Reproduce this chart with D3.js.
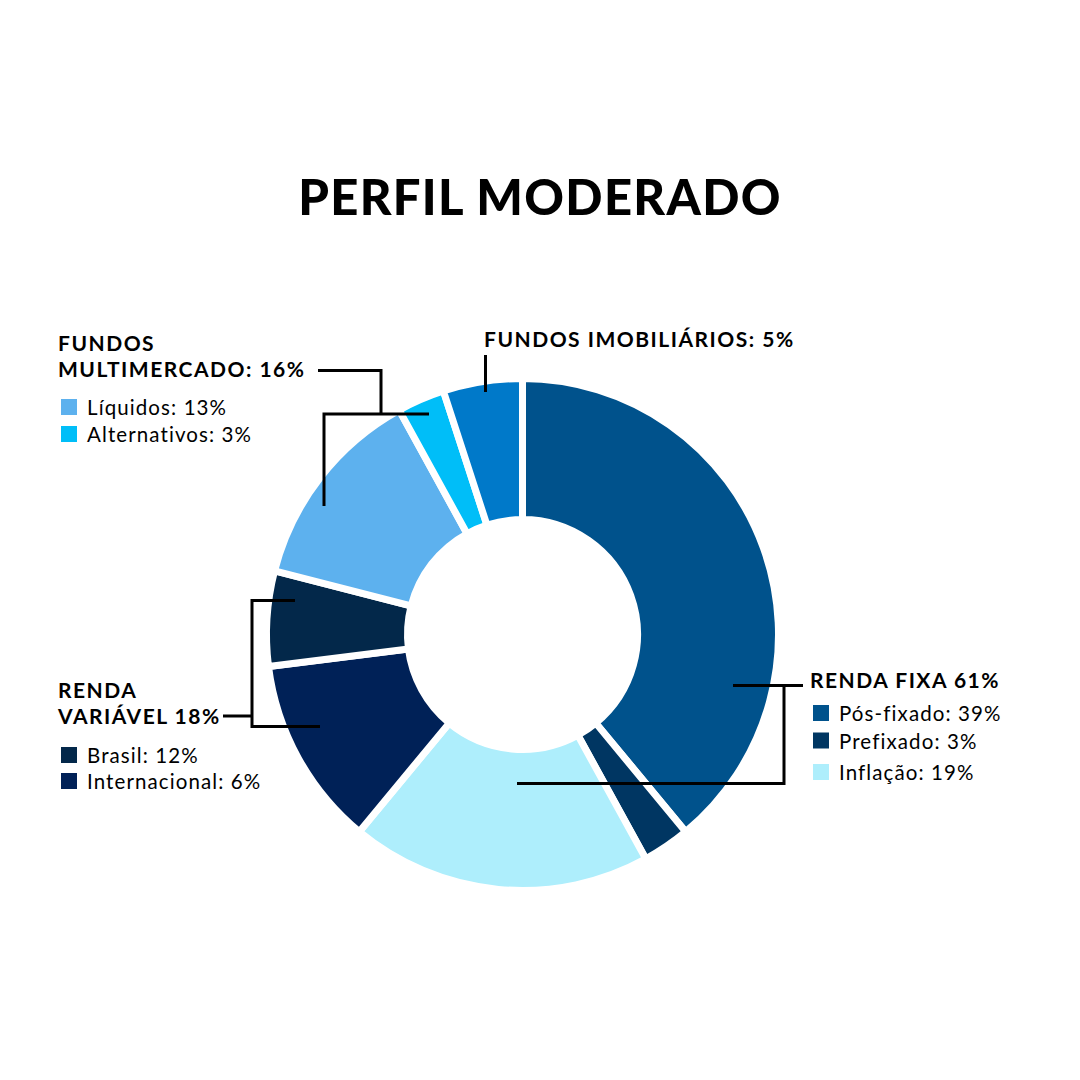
<!DOCTYPE html>
<html>
<head>
<meta charset="utf-8">
<script src="https://cdn.jsdelivr.net/npm/d3@7"></script>
<style>
html,body{margin:0;padding:0;background:#fff;}
svg{display:block;font-family:Lato,"Open Sans",sans-serif;}
</style>
</head>
<body>
<svg id="chart" width="1080" height="1080"></svg>
<script>
// ---- data ----
const title = "PERFIL MODERADO";
const sliceNames = ["Pós-fixado","Prefixado","Inflação","Brasil","Internacional","Líquidos","Alternativos","Imobiliários"];
const sliceValues = [39, 3, 19, 12, 6, 13, 3, 5];
const sliceColors = ["#00528c","#003662","#aeeefc","#002157","#03284a","#5db1ee","#00bef8","#0079c9"];

const groupTitles = {
  fixa: ["RENDA FIXA 61%"],
  variavel: ["RENDA", "VARIÁVEL 18%"],
  multi: ["FUNDOS", "MULTIMERCADO: 16%"],
  imob: ["FUNDOS IMOBILIÁRIOS: 5%"]
};
const legendFixa = ["Pós-fixado: 39%","Prefixado: 3%","Inflação: 19%"];
const legendFixaColors = ["#00528c","#003662","#aeeefc"];
const legendVariavel = ["Brasil: 12%","Internacional: 6%"];
const legendVariavelColors = ["#03284a","#002157"];
const legendMulti = ["Líquidos: 13%","Alternativos: 3%"];
const legendMultiColors = ["#5db1ee","#00bef8"];

// ---- layout ----
const svg = d3.select("#chart");
const cx = 522.5, cy = 634.5;
const rOuter = 256, rInner = 115;

svg.append("text")
  .attr("x", 540).attr("y", 215)
  .attr("text-anchor", "middle")
  .attr("font-size", 49).attr("font-weight", 900)
  .attr("letter-spacing", 1.3)
  .attr("fill", "#000")
  .text(title);

const pie = d3.pie().sort(null).value(d => d.v);
const arcs = pie(sliceValues.map((v, i) => ({v, name: sliceNames[i], color: sliceColors[i]})));
const arc = d3.arc().innerRadius(rInner).outerRadius(rOuter);

const g = svg.append("g").attr("transform", `translate(${cx},${cy})`);
g.selectAll("path").data(arcs).join("path")
  .attr("d", arc)
  .attr("fill", d => d.data.color)
  .attr("stroke", "#fff")
  .attr("stroke-width", 7)
  .attr("stroke-linejoin", "miter");

// connector lines
const lines = svg.append("g").attr("fill", "none").attr("stroke", "#000").attr("stroke-width", 3);
lines.append("path").attr("d", "M733,685.5 H803 M784,685.5 V783.5 H517");
lines.append("path").attr("d", "M223,716 H252 M295,600.5 H252 V726.5 H320");
lines.append("path").attr("d", "M318,370.5 H381 V414 M429,414 H324 V506");
lines.append("path").attr("d", "M485.5,355 V392");

function heading(x, y, linesArr) {
  const t = svg.append("text")
    .attr("x", x).attr("y", y)
    .attr("font-size", 21).attr("font-weight", 700)
    .attr("letter-spacing", 1.5)
    .attr("fill", "#000");
  linesArr.forEach((s, i) => {
    t.append("tspan").attr("x", x).attr("dy", i === 0 ? 0 : 26).text(s);
  });
}
function legend(x, y, items, colors, step) {
  items.forEach((s, i) => {
    const yy = y + i * step[i];
    svg.append("rect").attr("x", x).attr("y", yy - 16).attr("width", 16).attr("height", 16).attr("fill", colors[i]);
    svg.append("text").attr("x", x + 26).attr("y", yy)
      .attr("font-size", 20.5).attr("letter-spacing", 1.1)
      .attr("fill", "#000").text(s);
  });
}

heading(810, 688, groupTitles.fixa);
heading(58, 698, groupTitles.variavel);
heading(58, 351, groupTitles.multi);
heading(484, 347, groupTitles.imob);

legend(813, 721, legendFixa, legendFixaColors, [0, 27.5, 29.5]);
legend(61, 763, legendVariavel, legendVariavelColors, [0, 26]);
legend(61, 415, legendMulti, legendMultiColors, [0, 27]);
</script>
</body>
</html>
